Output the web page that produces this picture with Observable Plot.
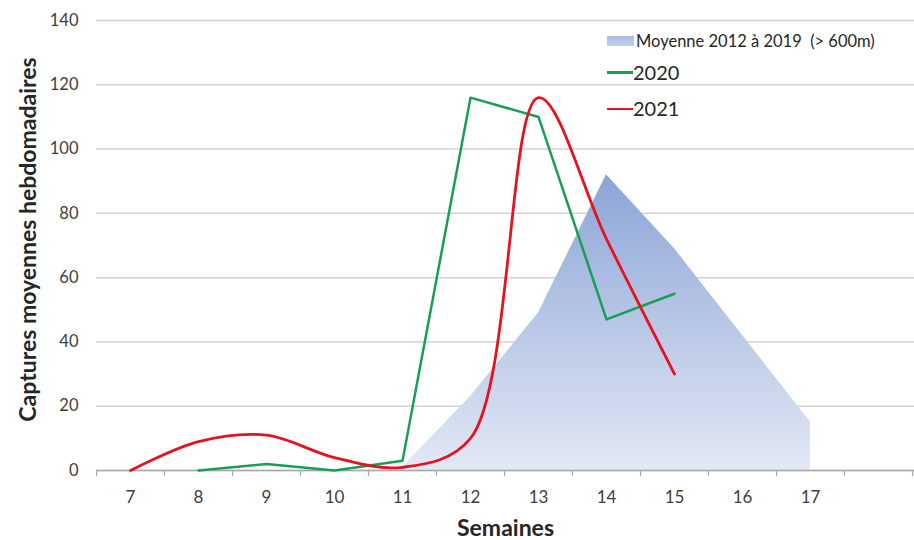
<!DOCTYPE html>
<html><head><meta charset="utf-8">
<script src="https://cdn.jsdelivr.net/npm/d3@7"></script>
<script src="https://cdn.jsdelivr.net/npm/@observablehq/plot@0.6"></script>
<style>
body{margin:0;background:#fff;}
#wrap{position:relative;width:914px;height:540px;font-family:Lato,sans-serif;color:#262626;}
.sw{position:absolute;}
.lt{position:absolute;line-height:1;white-space:pre;}
</style></head><body><div id="wrap"></div>
<script>
const weeks = [7, 8, 9, 10, 11, 12, 13, 14, 15, 16, 17];
const moyenneWeeks = [11, 12, 13, 14, 15, 16, 17];
const moyenne = [1, 23, 49, 92, 69, 42, 15];
const weeks2020 = [8, 9, 10, 11, 12, 13, 14, 15];
const values2020 = [0, 2, 0, 3, 116, 110, 47, 55];
const weeks2021 = [7, 8, 9, 10, 11, 12, 13, 14, 15];
const values2021 = [0, 9, 11, 4, 1, 10, 116, 72, 30];
const yTicks = [0, 20, 40, 60, 80, 100, 120, 140];
const bandEdges = [6.5, 7.5, 8.5, 9.5, 10.5, 11.5, 12.5, 13.5, 14.5, 15.5, 16.5, 17.5, 18.5];
const legendLabels = ["Moyenne 2012 à 2019  (> 600m)", "2020", "2021"];
const colors = {moyenne: "#b3c3e6", y2020: "#1a9e55", y2021: "#e3141e"};

const dMoy = moyenneWeeks.map((w, i) => ({w, v: moyenne[i]}));
const d20 = weeks2020.map((w, i) => ({w, v: values2020[i]}));
const d21 = weeks2021.map((w, i) => ({w, v: values2021[i]}));

const defs = () => {
  const d = d3.create("svg:defs");
  const g = d.append("linearGradient").attr("id", "grad").attr("x1", 0).attr("y1", 0).attr("x2", 0).attr("y2", 1);
  g.append("stop").attr("offset", "0%").attr("stop-color", "#8ca5d7");
  g.append("stop").attr("offset", "100%").attr("stop-color", "#e3e8f5");
  return d.node();
};

const chart = Plot.plot({
  width: 914, height: 540,
  marginLeft: 96, marginRight: 0, marginTop: 20, marginBottom: 70,
  style: {fontFamily: "Lato, sans-serif", background: "#fff"},
  x: {type: "linear", domain: [6.5, 18.5], range: [96, 912], label: null},
  y: {domain: [0, 140], label: null},
  marks: [
    defs,
    Plot.gridY(yTicks, {stroke: "#d2d2d2", strokeOpacity: 1, strokeWidth: 1.5}),
    Plot.areaY(dMoy, {x: "w", y: "v", fill: "url(#grad)"}),
    Plot.ruleY([0], {stroke: "#a8a8a8", strokeWidth: 1.5}),
    Plot.axisX(bandEdges, {tickSize: 6, tickFormat: () => "", stroke: "#a8a8a8", strokeWidth: 1.2}),
    Plot.axisX(weeks, {tickSize: 0, tickPadding: 20, fontSize: 17, fill: "#404040", tickFormat: d => String(d)}),
    Plot.axisY(yTicks, {tickSize: 0, tickPadding: 18, fontSize: 16.5, fill: "#404040"}),
    Plot.line(d20, {x: "w", y: "v", stroke: colors.y2020, strokeWidth: 2.5}),
    Plot.line(d21, {x: "w", y: "v", stroke: colors.y2021, strokeWidth: 2.8, curve: "catmull-rom"}),
    Plot.text(["Semaines"], {frameAnchor: "bottom", lineAnchor: "middle", dy: 58, fontSize: 23, fontWeight: "bold", fill: "#262626"}),
    Plot.text(["Captures moyennes hebdomadaires"], {frameAnchor: "left", textAnchor: "middle", lineAnchor: "middle", dx: -68, dy: -6, rotate: -90, fontSize: 23, fontWeight: "bold", fill: "#262626"})
  ]
});
const wrap = document.getElementById("wrap");
wrap.appendChild(chart);

const legend = [
  {type: "rect", color: "linear-gradient(#a9bbe3,#c4d0ec)", top: 36, h: 10, label: legendLabels[0], size: 16.5, ty: 42},
  {type: "line", color: colors.y2020, top: 71, h: 2.5, label: legendLabels[1], size: 20, ty: 73},
  {type: "line", color: colors.y2021, top: 107.5, h: 2.5, label: legendLabels[2], size: 20, ty: 109}
];
legend.forEach(l => {
  const s = document.createElement("div");
  s.className = "sw";
  s.style.left = "607px"; s.style.top = l.top + "px";
  s.style.width = (l.type === "rect" ? 27 : 26) + "px"; s.style.height = l.h + "px";
  s.style.background = l.color;
  wrap.appendChild(s);
  const t = document.createElement("div");
  t.className = "lt";
  t.textContent = l.label;
  t.style.left = (l.type === "rect" ? 636 : 633) + "px";
  t.style.fontSize = l.size + "px";
  t.style.top = (l.ty - l.size * 0.55) + "px";
  wrap.appendChild(t);
});
</script></body></html>
